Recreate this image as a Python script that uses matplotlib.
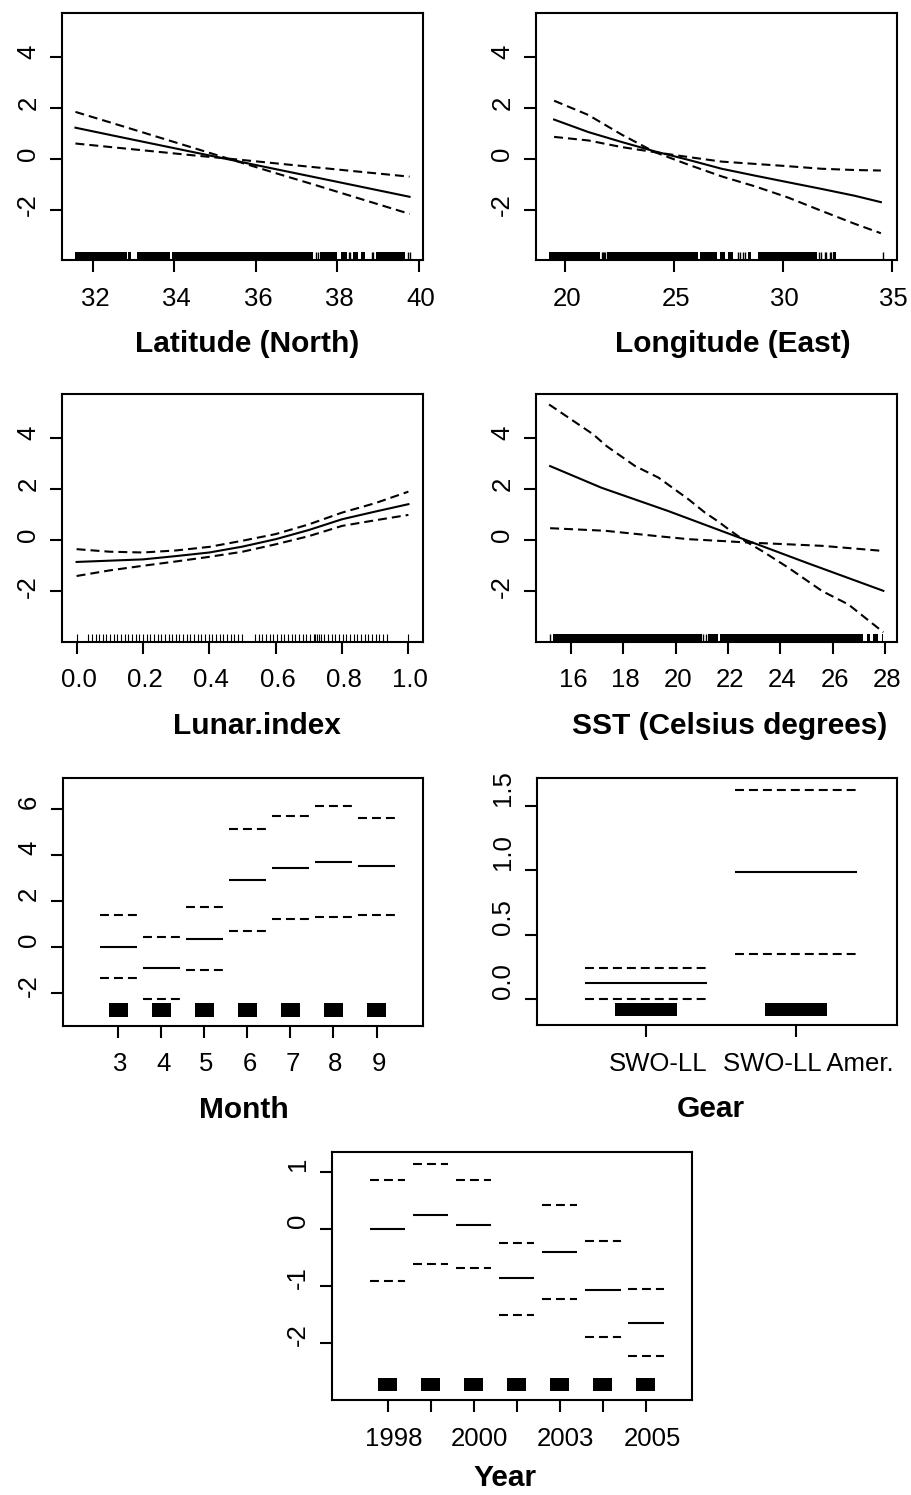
import matplotlib
matplotlib.use("Agg")
import matplotlib.pyplot as plt
from matplotlib.transforms import ScaledTranslation

plt.rcParams['font.family'] = ['Liberation Sans', 'DejaVu Sans']
plt.rcParams['axes.unicode_minus'] = False

# ---------------- data ----------------
# Latitude smooth
lat_x = [31.57, 32.5, 33.5, 34.5, 35.5, 36.5, 37.5, 38.5, 39.77]
lat_fit = [1.22, 0.91, 0.58, 0.25, -0.08, -0.41, -0.74, -1.07, -1.49]
lat_ci_a = [1.84, 1.39, 0.90, 0.41, -0.08, -0.57, -1.05, -1.54, -2.16]
lat_ci_b = [0.60, 0.45, 0.29, 0.13, -0.02, -0.18, -0.34, -0.50, -0.70]
lat_rug_spans = [(31.56, 32.83), (32.87, 32.93), (33.07, 33.89), (33.93, 37.41),
                 (37.57, 37.98), (38.08, 38.23), (38.39, 38.51), (38.59, 38.67),
                 (38.95, 39.66)]
lat_rug_ticks = [37.47, 37.53, 38.29, 38.32, 38.84, 38.88, 39.74, 39.78]
lat_xticks = [32, 34, 36, 38, 40]

# Longitude smooth
lon_x = [19.5, 21.07, 22.6, 24.13, 25.66, 27.19, 28.72, 30.24, 31.77, 33.3, 34.5]
lon_fit = [1.54, 1.05, 0.66, 0.29, -0.04, -0.39, -0.66, -0.92, -1.18, -1.45, -1.70]
lon_ci_a = [2.28, 1.72, 0.95, 0.26, -0.23, -0.69, -1.08, -1.52, -2.04, -2.55, -2.92]
lon_ci_b = [0.86, 0.72, 0.46, 0.26, 0.07, -0.11, -0.20, -0.29, -0.39, -0.44, -0.46]
lon_rug_spans = [(19.27, 21.61), (21.91, 26.11), (26.19, 26.96), (27.11, 27.34),
                 (27.49, 27.72), (28.41, 28.53), (28.87, 31.55), (32.31, 32.46)]
lon_rug_ticks = [21.68, 21.73, 21.79, 21.83, 27.95, 28.03, 28.18, 28.26,
                 31.65, 31.74, 31.93, 32.00, 32.16, 32.20, 34.60]
lon_xticks = [20, 25, 30, 35]

# Lunar index smooth
lun_x = [0.0, 0.1, 0.2, 0.3, 0.4, 0.5, 0.6, 0.7, 0.8, 0.9, 1.0]
lun_fit = [-0.85, -0.80, -0.75, -0.62, -0.48, -0.25, 0.04, 0.40, 0.82, 1.12, 1.41]
lun_upper = [-0.35, -0.45, -0.48, -0.40, -0.26, -0.02, 0.24, 0.62, 1.08, 1.45, 1.90]
lun_lower = [-1.40, -1.18, -1.00, -0.83, -0.65, -0.45, -0.16, 0.16, 0.56, 0.78, 0.99]
lun_rug = [0.000, 0.035, 0.046, 0.057, 0.068, 0.079, 0.090, 0.101, 0.112, 0.123,
           0.134, 0.145, 0.156, 0.167, 0.178, 0.189, 0.200, 0.211, 0.222, 0.233,
           0.244, 0.255, 0.266, 0.277, 0.288, 0.299, 0.310, 0.321, 0.332, 0.343,
           0.354, 0.365, 0.376, 0.387, 0.398, 0.409, 0.420, 0.431, 0.442, 0.453,
           0.464, 0.475, 0.486, 0.497,
           0.538, 0.549, 0.560, 0.571, 0.582, 0.593, 0.604, 0.615, 0.626, 0.637,
           0.648, 0.659, 0.670, 0.681, 0.692, 0.703, 0.714, 0.720, 0.725, 0.731,
           0.736, 0.747, 0.758, 0.769, 0.780, 0.791, 0.802, 0.813, 0.824, 0.835,
           0.846, 0.857, 0.868, 0.879, 0.890, 0.901, 0.912, 0.923, 0.934, 0.998]
lun_xticks = [0.0, 0.2, 0.4, 0.6, 0.8, 1.0]
lun_xticklabels = ["0.0", "0.2", "0.4", "0.6", "0.8", "1.0"]

# SST smooth
sst_x = [15.2, 17.17, 19.72, 22.65, 25.0, 27.94]
sst_fit = [2.90, 2.05, 1.14, 0.02, -0.88, -1.98]
sst_a_x = [15.16, 16.85, 17.36, 18.45, 19.34, 20.49, 21.12, 21.6, 22.1, 22.65,
           23.3, 24.3, 25.6, 26.6, 27.94]
sst_ci_a = [5.31, 4.14, 3.68, 2.90, 2.45, 1.60, 1.08, 0.75, 0.37, -0.03,
            -0.42, -1.07, -1.99, -2.51, -3.60]
sst_b_x = [15.2, 17.3, 19.2, 20.5, 21.75, 22.75, 24.3, 25.6, 27.94]
sst_ci_b = [0.47, 0.37, 0.17, 0.04, -0.03, -0.09, -0.16, -0.22, -0.42]
sst_rug_spans = [(15.32, 20.99), (21.25, 21.61), (21.69, 27.17), (27.30, 27.43),
                 (27.55, 27.74), (27.87, 27.93)]
sst_rug_ticks = [15.20, 21.06, 21.15]
sst_xticks = [16, 18, 20, 22, 24, 26, 28]

# Month (factor)
month_levels = [3, 4, 5, 6, 7, 8, 9]
month_fit = [0.00, -0.91, 0.36, 2.93, 3.43, 3.68, 3.51]
month_upper = [1.39, 0.43, 1.72, 5.13, 5.72, 6.14, 5.62]
month_lower = [-1.36, -2.26, -1.00, 0.68, 1.20, 1.30, 1.39]

# Gear (factor)
gear_levels = ["SWO-LL", "SWO-LL Amer."]
gear_fit = [0.124, 0.987]
gear_upper = [0.246, 1.627]
gear_lower = [0.000, 0.350]

# Year (factor)
year_levels = ["1998", "1999", "2000", "2002", "2003", "2004", "2005"]
year_shown = ["1998", "", "2000", "", "2003", "", "2005"]
year_fit = [0.00, 0.24, 0.07, -0.86, -0.41, -1.07, -1.65]
year_upper = [0.86, 1.15, 0.86, -0.25, 0.42, -0.21, -1.05]
year_lower = [-0.91, -0.62, -0.69, -1.51, -1.24, -1.90, -2.24]

# ---------------- figure ----------------
W, H = 911, 1495
fig = plt.figure(figsize=(W / 100, H / 100), dpi=100)

LW = 1.5
DASH = (0, (4.3, 2.4))
TICK_FS = 18.5
LAB_FS = 21.5


def make_ax(l, t, r, b):
    ax = fig.add_axes([l / W, 1 - b / H, (r - l) / W, (b - t) / H])
    for s in ax.spines.values():
        s.set_linewidth(LW)
        s.set_color('black')
    return ax


def finish(ax, px_w, px_h, xlabel, xl_center_px, ylab_up_px, xlab_right_px,
           label_base_px=92):
    ax.tick_params(length=8.6, width=LW, labelsize=TICK_FS, color='black',
                   labelcolor='black')
    ax.tick_params(axis='x', pad=10.5)
    ax.tick_params(axis='y', pad=7, labelrotation=90)
    off_y = ScaledTranslation(0, ylab_up_px / 100, fig.dpi_scale_trans)
    for lbl in ax.get_yticklabels():
        lbl.set_va('center')
        lbl.set_transform(lbl.get_transform() + off_y)
    off_x = ScaledTranslation(xlab_right_px / 100, 0, fig.dpi_scale_trans)
    for lbl in ax.get_xticklabels():
        lbl.set_transform(lbl.get_transform() + off_x)
    ax.set_xlabel(xlabel, fontsize=LAB_FS, fontweight='bold')
    ax.xaxis.set_label_coords(xl_center_px / px_w, -label_base_px / px_h)
    ax.xaxis.label.set_verticalalignment('baseline')


def rug(ax, spans, ticks, lw=1.0):
    tr = ax.get_xaxis_transform()
    if spans:
        ax.broken_barh([(s, e - s) for s, e in spans], (0, 0.033),
                       transform=tr, facecolors='black', edgecolors='none')
    if ticks:
        ax.vlines(ticks, 0, 0.033, transform=tr, color='black', lw=lw)


def smooth_panel(ax, x, fit, xa, a, xb, b):
    ax.plot(x, fit, color='black', lw=LW)
    ax.plot(xa, a, color='black', lw=LW, ls=DASH)
    ax.plot(xb, b, color='black', lw=LW, ls=DASH)


def factor_panel(ax, pos, fit, up, lo, hw, rhw):
    pos_l = [p - hw for p in pos]
    pos_r = [p + hw for p in pos]
    ax.hlines(fit, pos_l, pos_r, color='black', lw=LW)
    ax.hlines(up, pos_l, pos_r, color='black', lw=LW, linestyles=[DASH])
    ax.hlines(lo, pos_l, pos_r, color='black', lw=LW, linestyles=[DASH])
    ax.broken_barh([(p - rhw, 2 * rhw) for p in pos], (0.036, 0.054),
                   transform=ax.get_xaxis_transform(), facecolors='black',
                   edgecolors='none')


YL_SMOOTH = (-3.97, 5.72)
Y_SMOOTH_TICKS = [-2, 0, 2, 4]

# Panel 1: Latitude
ax1 = make_ax(62, 13, 423, 260)
smooth_panel(ax1, lat_x, lat_fit, lat_x, lat_ci_a, lat_x, lat_ci_b)
rug(ax1, lat_rug_spans, lat_rug_ticks)
ax1.set_xlim(31.24, 40.1)
ax1.set_ylim(*YL_SMOOTH)
ax1.set_xticks(lat_xticks)
ax1.set_yticks(Y_SMOOTH_TICKS)
finish(ax1, 361, 247, "Latitude (North)", 184.7, 5, 2)

# Panel 2: Longitude
ax2 = make_ax(536, 13, 897, 260)
smooth_panel(ax2, lon_x, lon_fit, lon_x, lon_ci_a, lon_x, lon_ci_b)
rug(ax2, lon_rug_spans, lon_rug_ticks)
ax2.set_xlim(18.67, 35.24)
ax2.set_ylim(*YL_SMOOTH)
ax2.set_xticks(lon_xticks)
ax2.set_yticks(Y_SMOOTH_TICKS)
finish(ax2, 361, 247, "Longitude (East)", 196.5, 5, 2)

# Panel 3: Lunar index
ax3 = make_ax(62, 394, 423, 641.7)
smooth_panel(ax3, lun_x, lun_fit, lun_x, lun_upper, lun_x, lun_lower)
rug(ax3, [], lun_rug, lw=0.8)
ax3.set_xlim(-0.044, 1.044)
ax3.set_ylim(*YL_SMOOTH)
ax3.set_xticks(lun_xticks)
ax3.set_xticklabels(lun_xticklabels)
ax3.set_yticks(Y_SMOOTH_TICKS)
finish(ax3, 361, 247.7, "Lunar.index", 194.7, 5, 2)

# Panel 4: SST
ax4 = make_ax(536, 394, 896.7, 641.7)
smooth_panel(ax4, sst_x, sst_fit, sst_a_x, sst_ci_a, sst_b_x, sst_ci_b)
rug(ax4, sst_rug_spans, sst_rug_ticks)
ax4.set_xlim(14.66, 28.45)
ax4.set_ylim(*YL_SMOOTH)
ax4.set_xticks(sst_xticks)
ax4.set_yticks(Y_SMOOTH_TICKS)
finish(ax4, 360.7, 247.7, "SST (Celsius degrees)", 194.0, 5, 2)

# Panel 5: Month
ax5 = make_ax(62.7, 778.3, 423, 1025.7)
factor_panel(ax5, month_levels, month_fit, month_upper, month_lower, 0.43, 0.224)
ax5.set_xlim(1.707, 10.08)
ax5.set_ylim(-3.44, 7.35)
ax5.set_xticks(month_levels)
ax5.set_xticklabels([str(m) for m in month_levels])
ax5.set_yticks([-2, 0, 2, 4, 6])
finish(ax5, 360.3, 247.4, "Month", 181.3, 7, 2)

# Panel 6: Gear
ax6 = make_ax(536.7, 778.3, 896.7, 1025)
gear_pos = [1, 2]
factor_panel(ax6, gear_pos, gear_fit, gear_upper, gear_lower, 0.405, 0.205)
ax6.set_xlim(0.271, 2.671)
ax6.set_ylim(-0.2, 1.715)
ax6.set_xticks(gear_pos)
ax6.set_xticklabels(gear_levels)
ax6.set_yticks([0.0, 0.5, 1.0, 1.5])
ax6.set_yticklabels(["0.0", "0.5", "1.0", "1.5"])
finish(ax6, 360, 246.7, "Gear", 174.1, 18, 12)

# Panel 7: Year
ax7 = make_ax(331.7, 1152.3, 692.3, 1400)
year_pos = [1, 2, 3, 4, 5, 6, 7]
factor_panel(ax7, year_pos, year_fit, year_upper, year_lower, 0.41, 0.22)
ax7.set_xlim(-0.30, 8.077)
ax7.set_ylim(-3.01, 1.35)
ax7.set_xticks(year_pos)
ax7.set_xticklabels(year_shown)
ax7.set_yticks([-2, -1, 0, 1])
finish(ax7, 360.6, 247.7, "Year", 173.3, 8, 6, label_base_px=86)

fig.savefig("out.png", dpi=100)
